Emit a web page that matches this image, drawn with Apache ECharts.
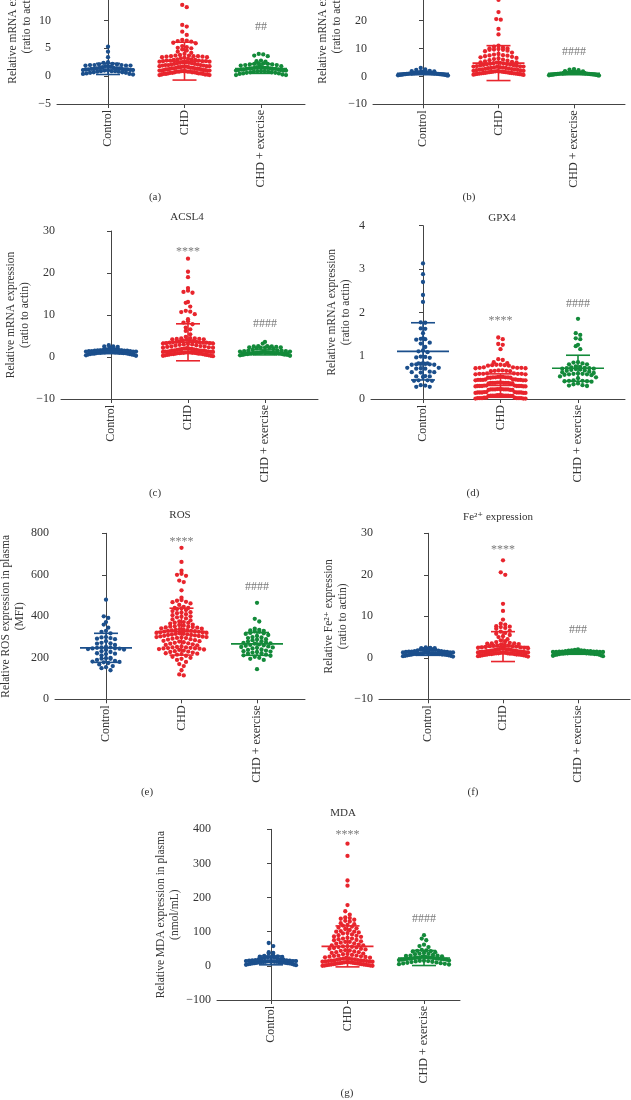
<!DOCTYPE html>
<html><head><meta charset="utf-8">
<script src="https://cdn.jsdelivr.net/npm/echarts@6/dist/echarts.min.js"></script>
<style>html,body{margin:0;padding:0;background:#fff}#c{width:631px;height:1100px}</style>
</head><body><div id="c"></div><script>
// ---------- data ----------
const categories = ['Control', 'CHD', 'CHD + exercise'];

const ctrlA = [5.3,4.4,3.4,2.5,2.4,2.2,2.1,2.1,2.0,2.0,2.0,1.9,1.9,1.9,1.8,1.8,1.7,1.6,1.5,1.5,1.4,1.4,1.4,1.3,1.3,1.3,1.2,1.2,1.2,1.2,1.1,1.1,1.1,1.0,1.0,0.9,0.9,0.9,0.8,0.8,0.7,0.7,0.6,0.6,0.5,0.4,0.4,0.3];
const chdA = [12.8,12.4,9.2,8.9,8.0,7.4,6.5,6.4,6.3,6.2,6.0,5.9,5.4,5.2,5.1,5.0,4.8,4.6,4.4,4.2,4.0,3.8,3.7,3.7,3.6,3.6,3.6,3.5,3.5,3.4,3.4,3.3,3.2,3.1,3.0,3.0,2.9,2.9,2.8,2.8,2.8,2.7,2.7,2.7,2.6,2.6,2.5,2.5,2.4,2.4,2.3,2.3,2.2,2.2,2.1,2.1,2.0,2.0,2.0,1.9,1.9,1.8,1.8,1.8,1.7,1.7,1.7,1.6,1.6,1.6,1.5,1.5,1.5,1.4,1.4,1.4,1.3,1.3,1.3,1.2,1.2,1.2,1.1,1.1,1.1,1.0,1.0,1.0,1.0,0.9,0.9,0.9,0.8,0.8,0.8,0.8,0.7,0.7,0.7,0.6,0.6,0.6,0.5,0.5,0.5,0.4,0.4,0.4,0.3,0.3,0.3,0.2,0.2];
const exA = [4.0,3.9,3.7,3.6,2.8,2.7,2.6,2.3,2.3,2.2,2.2,2.1,2.1,2.0,2.0,1.9,1.8,1.7,1.6,1.6,1.5,1.5,1.5,1.4,1.4,1.4,1.3,1.3,1.3,1.2,1.2,1.2,1.1,1.1,1.0,1.0,1.0,0.9,0.9,0.9,0.8,0.8,0.7,0.7,0.6,0.6,0.5,0.5,0.4,0.3,0.2,0.2];
const meanA = [1.3, 2.7, 1.35];
const sdA = [1.0, 3.4, 0.85];
const marksA = [[2, 8.8, '##']];

const ctrlB = [3.0,2.5,2.3,2.0,1.9,1.8,1.7,1.6,1.5,1.5,1.4,1.4,1.3,1.3,1.3,1.2,1.2,1.2,1.2,1.1,1.1,1.1,1.1,1.0,1.0,1.0,1.0,1.0,0.9,0.9,0.9,0.9,0.8,0.8,0.8,0.8,0.7,0.7,0.7,0.6,0.6,0.6,0.5,0.5,0.4,0.4,0.3];
const chdB = [27.4,23.0,20.5,20.3,17.0,15.0,11.0,10.6,10.3,10.0,10.0,9.8,9.6,9.5,9.5,9.2,9.0,8.5,8.0,7.8,7.6,7.5,7.4,7.2,7.0,6.8,6.6,6.4,6.2,6.0,5.8,5.6,5.4,5.2,5.0,5.0,4.9,4.8,4.7,4.6,4.5,4.4,4.3,4.2,4.1,4.0,3.9,3.8,3.7,3.6,3.5,3.5,3.4,3.3,3.2,3.1,3.0,3.0,2.9,2.8,2.7,2.6,2.5,2.5,2.4,2.3,2.2,2.1,2.0,2.0,1.9,1.8,1.8,1.7,1.7,1.6,1.6,1.5,1.5,1.4,1.4,1.3,1.3,1.2,1.2,1.1,1.1,1.0,1.0,0.9,0.9,0.8,0.8,0.7,0.6,0.5];
const exB = [2.6,2.4,2.2,1.9,1.8,1.7,1.6,1.5,1.5,1.4,1.4,1.3,1.3,1.3,1.2,1.2,1.2,1.2,1.1,1.1,1.1,1.1,1.0,1.0,1.0,1.0,1.0,0.9,0.9,0.9,0.9,0.8,0.8,0.8,0.8,0.7,0.7,0.7,0.6,0.6,0.6,0.5,0.5,0.4,0.4,0.3];
const meanB = [1.1, 4.75, 1.1];
const sdB = [0.5, 6.25, 0.5];
const marksB = [[2, 8.7, '####']];

const ctrlC = [2.8,2.5,2.5,2.4,2.2,1.9,1.8,1.8,1.7,1.7,1.6,1.6,1.6,1.5,1.5,1.5,1.4,1.4,1.4,1.3,1.3,1.3,1.2,1.2,1.2,1.2,1.1,1.1,1.1,1.1,1.0,1.0,1.0,1.0,0.9,0.9,0.9,0.8,0.8,0.8,0.7,0.7,0.6,0.6,0.5,0.4,0.3];
const chdC = [23.4,20.3,19.0,16.4,15.8,15.5,15.3,13.1,12.9,12.0,11.0,10.8,10.7,10.2,9.0,8.5,8.2,7.8,7.0,6.6,6.2,5.4,4.8,4.5,4.4,4.4,4.3,4.3,4.2,4.2,4.1,4.0,3.9,3.8,3.7,3.6,3.6,3.5,3.5,3.4,3.4,3.4,3.3,3.3,3.2,3.2,3.1,3.0,3.0,2.9,2.8,2.7,2.6,2.5,2.5,2.4,2.3,2.2,2.2,2.1,2.0,2.0,1.9,1.9,1.8,1.8,1.7,1.7,1.6,1.6,1.5,1.5,1.5,1.4,1.4,1.3,1.3,1.3,1.2,1.2,1.2,1.1,1.1,1.1,1.0,1.0,1.0,1.0,0.9,0.9,0.9,0.8,0.8,0.8,0.7,0.7,0.7,0.6,0.6,0.5,0.5,0.4,0.4,0.3,0.3,0.2];
const exC = [3.6,3.2,2.6,2.6,2.5,2.5,2.4,2.3,2.3,2.2,2.2,2.2,2.1,1.9,1.7,1.6,1.5,1.5,1.4,1.4,1.3,1.3,1.2,1.2,1.1,1.1,1.1,1.0,1.0,1.0,1.0,0.9,0.9,0.9,0.9,0.8,0.8,0.8,0.8,0.7,0.7,0.7,0.6,0.6,0.6,0.5,0.5,0.4,0.3];
const meanC = [1.3, 3.5, 1.1];
const sdC = [0.5, 4.4, 0.6];
const marksC = [[1, 25, '****'], [2, 7.9, '####']];

const ctrlD = [3.13,2.88,2.70,2.40,2.24,1.77,1.76,1.63,1.62,1.52,1.40,1.39,1.38,1.37,1.30,1.28,1.20,1.12,1.10,1.08,0.98,0.97,0.96,0.95,0.83,0.82,0.82,0.81,0.81,0.80,0.80,0.79,0.79,0.72,0.72,0.71,0.70,0.70,0.63,0.62,0.62,0.61,0.53,0.52,0.52,0.51,0.43,0.43,0.42,0.42,0.32,0.31,0.28,0.28];
const chdD = [0.01,0.02,0.02,0.03,0.01,0.02,0.03,0.02,0.01,0.03,0.02,0.02,
  0.07,0.08,0.08,0.09,0.07,0.08,0.09,0.08,0.07,0.09,0.08,0.08,
  0.14,0.15,0.15,0.16,0.14,0.15,0.16,0.15,0.14,0.16,0.15,0.15,
  0.21,0.22,0.22,0.23,0.21,0.22,0.23,0.22,0.21,0.23,0.22,0.22,
  0.29,0.30,0.30,0.31,0.29,0.30,0.31,0.30,0.29,0.31,0.30,0.30,
  0.36,0.37,0.37,0.38,0.36,0.37,0.38,0.37,0.36,0.38,0.37,0.37,
  0.43,0.44,0.44,0.45,0.43,0.44,0.45,0.44,0.43,0.45,0.44,
  0.49,0.50,0.50,0.51,0.49,0.50,0.51,0.50,0.49,0.51,
  0.57,0.58,0.58,0.59,0.57,0.58,0.59,0.58,
  0.64,0.65,0.66,0.65,0.64,0.66,
  0.71,0.72,0.73,0.72,0.71,0.73,0.72,
  0.77,0.78,0.79,0.78,0.77,0.79,
  0.83,0.85,0.90,0.92,1.15,1.25,1.27,1.38,1.42];
const exD = [1.85,1.52,1.48,1.40,1.38,1.25,1.22,1.15,0.85,0.84,0.82,0.80,0.80,0.75,0.74,0.73,0.72,0.71,0.71,0.70,0.70,0.69,0.68,0.67,0.66,0.65,0.63,0.62,0.60,0.59,0.58,0.58,0.57,0.57,0.56,0.55,0.52,0.50,0.48,0.43,0.42,0.42,0.41,0.41,0.40,0.36,0.34,0.32,0.31,0.30];
const meanD = [1.1, 0.31, 0.71];
const sdD = [0.66, 0.27, 0.3];
const marksD = [[1, 1.8, '****'], [2, 2.2, '####']];

const ctrlE = [480,400,392,372,360,345,330,325,318,300,298,295,292,290,280,272,270,268,262,252,250,250,248,246,245,244,242,240,238,232,228,222,220,218,212,200,198,196,195,190,185,182,180,178,175,168,160,155,150,140];
const chdE = [730,662,620,605,600,595,572,565,525,490,478,475,470,468,462,455,445,440,440,438,435,430,425,420,418,415,410,405,400,398,395,390,385,380,375,372,370,368,365,360,358,355,352,350,350,348,346,345,342,340,338,336,335,333,332,330,330,328,326,325,323,322,320,320,318,316,315,313,312,310,310,308,306,305,303,302,300,300,298,296,295,292,290,288,285,282,280,278,275,272,270,268,265,262,260,255,252,250,250,248,247,246,245,244,242,240,238,235,232,230,228,225,222,220,218,215,210,205,200,195,190,180,170,160,140,120,115];
const exE = [465,388,375,340,335,332,330,328,325,320,318,315,310,305,300,298,295,290,288,285,280,278,275,272,270,268,265,262,260,258,255,252,250,248,245,240,238,235,232,230,228,225,222,220,215,212,210,205,200,195,190,145];
const meanE = [248, 326, 267];
const sdE = [70, 113, 55];
const marksE = [[1, 757, '****'], [2, 541, '####']];

const ctrlF = [2.5,2.4,2.3,2.3,2.2,2.2,2.1,2.0,2.0,1.9,1.8,1.7,1.6,1.6,1.5,1.5,1.5,1.4,1.4,1.3,1.3,1.3,1.2,1.2,1.2,1.1,1.1,1.1,1.0,1.0,1.0,1.0,0.9,0.9,0.9,0.8,0.8,0.8,0.7,0.7,0.6,0.6,0.5,0.5,0.4,0.3];
const chdF = [23.5,20.6,20.0,13.0,11.3,9.2,8.2,8.0,7.6,7.5,7.4,7.2,7.0,6.5,6.3,6.0,5.8,5.5,5.2,5.0,4.5,4.2,4.0,3.8,3.6,3.5,3.5,3.4,3.3,3.2,3.1,3.0,3.0,2.9,2.8,2.8,2.7,2.6,2.5,2.5,2.4,2.4,2.3,2.2,2.2,2.1,2.0,2.0,2.0,1.9,1.9,1.8,1.8,1.7,1.7,1.6,1.6,1.6,1.5,1.5,1.5,1.4,1.4,1.4,1.3,1.3,1.3,1.2,1.2,1.2,1.1,1.1,1.1,1.0,1.0,1.0,0.9,0.9,0.9,0.8,0.8,0.8,0.7,0.7,0.6,0.6,0.5,0.5,0.4,0.3];
const exF = [2.0,1.9,1.8,1.8,1.7,1.7,1.6,1.6,1.6,1.5,1.5,1.5,1.5,1.4,1.4,1.4,1.4,1.3,1.3,1.3,1.3,1.2,1.2,1.2,1.2,1.1,1.1,1.1,1.1,1.0,1.0,1.0,1.0,0.9,0.9,0.9,0.8,0.8,0.7,0.6,0.5,0.4];
const meanF = [1.2, 2.7, 1.2];
const sdF = [0.6, 3.6, 0.35];
const marksF = [[1, 25.9, '****'], [2, 6.7, '###']];

const ctrlG = [67,58,40,38,36,30,29,28,27,26,25,25,24,23,22,21,20,19,18,17,16,16,15,15,14,14,14,13,13,13,12,12,12,11,11,11,10,10,10,9,9,8,8,7,7,6,6,5,4,3,2];
const chdG = [358,322,250,235,178,160,150,142,140,138,135,132,130,125,122,120,118,115,112,110,108,105,102,100,100,98,96,95,92,90,88,86,85,82,80,80,78,76,75,72,70,70,68,66,65,62,60,60,58,57,56,55,54,52,50,50,48,46,45,44,42,40,40,38,36,35,34,32,30,30,29,28,27,26,25,24,23,22,21,20,20,19,18,17,16,16,15,15,14,14,13,13,12,12,11,11,10,10,9,9,8,8,7,7,6,6,5,5,4,4,3,3,2,2,1,1,0,0];
const exG = [90,80,75,62,58,55,47,45,44,43,42,40,38,36,35,34,32,30,30,29,28,27,26,25,25,24,24,23,23,22,22,21,21,20,20,19,19,18,18,17,16,15,15,14,13,12,11,10,9,8,7,6,5,4];
const meanG = [16, 57, 23];
const sdG = [13, 60, 22];
const marksG = [[1, 383, '****'], [2, 137, '####']];

const panels = [
  {tag:'(a)', title:'', yName:'Relative mRNA expression\n(ratio to actin)', yMin:-5, yMax:25, yStep:5, groups:[ctrlA,chdA,exA], means:meanA, sds:sdA, marks:marksA},
  {tag:'(b)', title:'', yName:'Relative mRNA expression\n(ratio to actin)', yMin:-10, yMax:50, yStep:10, groups:[ctrlB,chdB,exB], means:meanB, sds:sdB, marks:marksB},
  {tag:'(c)', title:'ACSL4', yName:'Relative mRNA expression\n(ratio to actin)', yMin:-10, yMax:30, yStep:10, groups:[ctrlC,chdC,exC], means:meanC, sds:sdC, marks:marksC},
  {tag:'(d)', title:'GPX4', yName:'Relative mRNA expression\n(ratio to actin)', yMin:0, yMax:4, yStep:1, groups:[ctrlD,chdD,exD], means:meanD, sds:sdD, marks:marksD},
  {tag:'(e)', title:'ROS', yName:'Relative ROS expression in plasma\n(MFI)', yMin:0, yMax:800, yStep:200, groups:[ctrlE,chdE,exE], means:meanE, sds:sdE, marks:marksE},
  {tag:'(f)', title:'Fe\u00B2\u207A expression', yName:'Relative Fe\u00B2\u207A expression\n(ratio to actin)', yMin:-10, yMax:30, yStep:10, groups:[ctrlF,chdF,exF], means:meanF, sds:sdF, marks:marksF},
  {tag:'(g)', title:'MDA', yName:'Relative MDA expression in plasma\n(nmol/mL)', yMin:-100, yMax:400, yStep:100, groups:[ctrlG,chdG,exG], means:meanG, sds:sdG, marks:marksG}
];

// ---------- layout / style ----------
const layouts = [
  {left:57,  end:305, top:-63,   bottom:104,  c0:108, step:76.5, gap:21, tagPos:[155,197],  titlePos:null},
  {left:373, end:625, top:-63.3, bottom:104.3,c0:423, step:75.5, gap:24, tagPos:[469,197],  titlePos:null},
  {left:61,  end:318, top:231,   bottom:399,  c0:111, step:77,   gap:26, tagPos:[155,493],  titlePos:[187,217]},
  {left:371, end:625, top:225.7, bottom:399,  c0:423, step:77.5, gap:18, tagPos:[473,493],  titlePos:[502,218]},
  {left:55,  end:305, top:533.3, bottom:699.3,c0:106, step:75.5, gap:27, tagPos:[147,792],  titlePos:[180,515]},
  {left:379, end:630, top:533.3, bottom:699.3,c0:428, step:75,   gap:25, tagPos:[473,792],  titlePos:[498,517]},
  {left:217, end:460, top:829.3, bottom:1000, c0:271, step:76.5, gap:28, tagPos:[347,1093], titlePos:[343,813]}
];
const colors = ['#1b4f8c', '#e8252d', '#138a3a'];
const FONT = '"Liberation Serif", "DejaVu Serif", serif';
const TXT = '#333';
const AX = '#444';
const DOT = 4.3, BIN_PX = 4.0, DX_PX = 4.5, MAXW_PX = 50;

// Prism-like column scatter: group nearby values into rows (one symbol high),
// highest value of a row in the centre, squeeze rows wider than MAXW_PX
function swarm(values, cat, pxPerY, pxPerCat) {
  const sorted = values.slice().sort((a, b) => a - b);
  const binU = BIN_PX / pxPerY;
  const rows = []; let cur = null;
  sorted.forEach(v => {
    if (!cur || v - cur.start >= binU) { cur = {start: v, vals: []}; rows.push(cur); }
    cur.vals.push(v);
  });
  const pts = [];
  rows.forEach(r => {
    const n = r.vals.length;
    const dpx = n > 1 ? Math.min(DX_PX, MAXW_PX / (n - 1)) : DX_PX;
    const dx = dpx / pxPerCat;
    const slots = [];
    for (let i = 0; i < n; i++) slots.push(i - (n - 1) / 2);
    slots.sort((a, b) => Math.abs(a) - Math.abs(b) || a - b);
    const desc = r.vals.slice().reverse();
    desc.forEach((v, i) => pts.push([cat + slots[i] * dx, v]));
  });
  return pts;
}

const grid = [], xAxis = [], yAxis = [], series = [], graphic = [];
panels.forEach((p, k) => {
  const L = layouts[k];
  grid.push({left: L.left, top: L.top, width: L.end - L.left, height: L.bottom - L.top,
    containLabel: false, outerBoundsMode: 'none'});
  const xmin = -(L.c0 - L.left) / L.step, xmax = (L.end - L.c0) / L.step;
  xAxis.push({type: 'value', gridIndex: k, min: xmin, max: xmax,
    axisLine: {show: true, onZero: false, lineStyle: {color: AX, width: 1}},
    axisTick: {show: true, length: 4, customValues: [0, 1, 2], lineStyle: {color: AX}},
    axisLabel: {show: true, customValues: [0, 1, 2], rotate: 90, margin: 6,
      fontFamily: FONT, fontSize: 12, color: TXT,
      formatter: v => categories[Math.round(v)] || ''},
    splitLine: {show: false}});
  yAxis.push({type: 'value', gridIndex: k, min: p.yMin, max: p.yMax, interval: p.yStep,
    name: p.yName, nameLocation: 'middle', nameGap: L.gap, nameRotate: 90,
    nameTextStyle: {fontFamily: FONT, fontSize: 11.5, color: TXT, lineHeight: 14, align: 'center'},
    axisLine: {show: true, lineStyle: {color: AX, width: 1}},
    axisTick: {show: true, length: 4, lineStyle: {color: AX}},
    axisLabel: {fontFamily: FONT, fontSize: 12, color: TXT, margin: 6,
      formatter: v => v < 0 ? '\u2212' + Math.abs(v) : String(v)},
    splitLine: {show: false}});
  const pxPerY = (L.bottom - L.top) / (p.yMax - p.yMin);
  p.groups.forEach((vals, g) => {
    series.push({type: 'scatter', xAxisIndex: k, yAxisIndex: k, symbolSize: DOT,
      itemStyle: {color: colors[g], opacity: 1}, silent: true, animation: false,
      data: swarm(vals, g, pxPerY, L.step), z: 2});
  });
  series.push({type: 'custom', xAxisIndex: k, yAxisIndex: k, animation: false, silent: true, z: 5,
    data: p.means.map((m, g) => [g, m, p.sds[g]]),
    renderItem: (params, api) => {
      const g = api.value(0), m = api.value(1), s = api.value(2);
      const pm = api.coord([g, m]), pt = api.coord([g, m + s]), pb = api.coord([g, m - s]);
      const st = {stroke: colors[Math.round(g)], lineWidth: 1.6};
      return {type: 'group', children: [
        {type: 'line', shape: {x1: pm[0] - 26, y1: pm[1], x2: pm[0] + 26, y2: pm[1]}, style: st},
        {type: 'line', shape: {x1: pt[0], y1: pt[1], x2: pb[0], y2: pb[1]}, style: st},
        {type: 'line', shape: {x1: pt[0] - 12, y1: pt[1], x2: pt[0] + 12, y2: pt[1]}, style: st},
        {type: 'line', shape: {x1: pb[0] - 12, y1: pb[1], x2: pb[0] + 12, y2: pb[1]}, style: st}
      ]};
    }});
  series.push({type: 'custom', xAxisIndex: k, yAxisIndex: k, animation: false, silent: true, z: 6,
    data: p.marks.map(m => [m[0], m[1]]),
    renderItem: (params, api) => {
      const c = api.coord([api.value(0), api.value(1)]);
      return {type: 'text', x: c[0], y: c[1],
        style: {text: p.marks[params.dataIndex][2], font: '12px ' + FONT, fill: '#7a7a7a',
          textAlign: 'center', textVerticalAlign: 'middle'}};
    }});
  graphic.push({type: 'text', x: L.tagPos[0], y: L.tagPos[1],
    style: {text: p.tag, font: '11px ' + FONT, fill: TXT, textAlign: 'center', textVerticalAlign: 'middle'}});
  if (L.titlePos && p.title) {
    graphic.push({type: 'text', x: L.titlePos[0], y: L.titlePos[1],
      style: {text: p.title, font: '11px ' + FONT, fill: TXT, textAlign: 'center', textVerticalAlign: 'middle'}});
  }
});

const chart = echarts.init(document.getElementById('c'));
chart.setOption({backgroundColor: '#fff', animation: false, grid, xAxis, yAxis, series, graphic});
</script></body></html>
